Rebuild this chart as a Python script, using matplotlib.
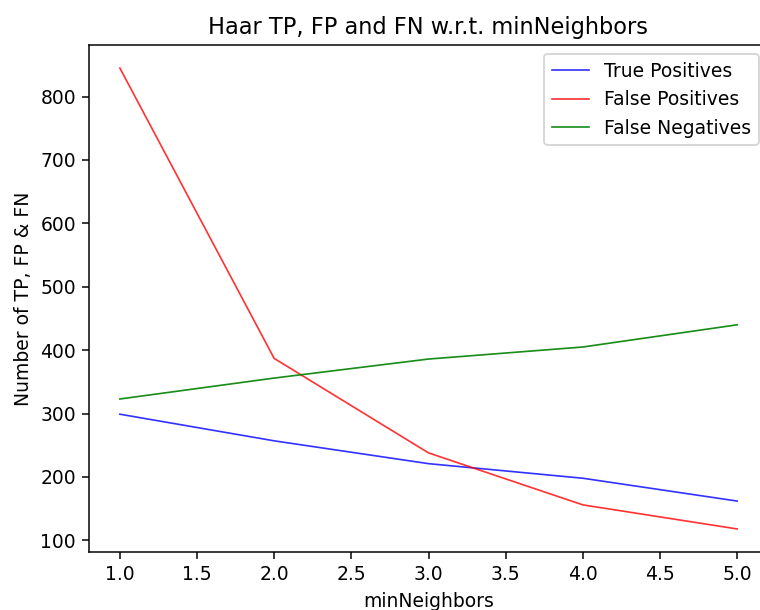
import matplotlib
matplotlib.use("Agg")
import matplotlib.pyplot as plt

min_neighbors = [1, 2, 3, 4, 5]
true_pos = [299, 257, 221, 198, 162]
false_pos = [845, 387, 238, 156, 118]
false_neg = [323, 356, 386, 405, 440]

DPI = 135
fig = plt.figure(figsize=(760/DPI, 610/DPI), dpi=DPI)
ax = fig.add_axes([89/760, 1-552/610, 679/760, (552-45)/610])
ax.plot(min_neighbors, true_pos, color="blue", alpha=0.8, lw=0.9, label="True Positives")
ax.plot(min_neighbors, false_pos, color="red", alpha=0.8, lw=0.9, label="False Positives")
ax.plot(min_neighbors, false_neg, color="green", alpha=0.9, lw=0.9, label="False Negatives")
ax.set_xticks([1.0, 1.5, 2.0, 2.5, 3.0, 3.5, 4.0, 4.5, 5.0])
ax.set_title("Haar TP, FP and FN w.r.t. minNeighbors")
ax.set_xlabel("minNeighbors")
ax.set_ylabel("Number of TP, FP & FN")
ax.legend(loc="upper right")
fig.savefig("out.png", dpi=DPI)
